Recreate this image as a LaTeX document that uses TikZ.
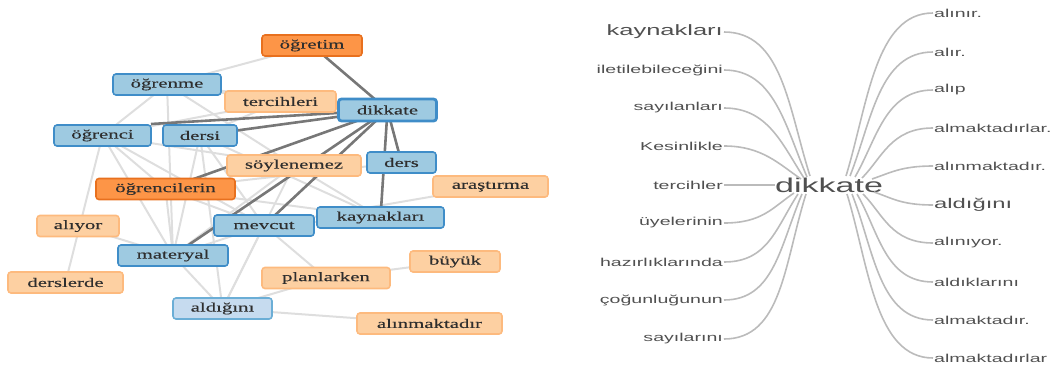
\documentclass[tikz,border=0pt]{standalone}
\usepackage{fontspec}
\newfontfamily\netfont[FakeStretch=1.6,FakeBold=0.25]{Liberation Serif}
\newfontfamily\treefont[FakeStretch=1.7]{Liberation Sans}
\definecolor{odark}{HTML}{FD9547}
\definecolor{odarkb}{HTML}{E8701E}
\definecolor{olight}{HTML}{FDD0A2}
\definecolor{olightb}{HTML}{FDBA7E}
\definecolor{bmid}{HTML}{9ECAE1}
\definecolor{bmidb}{HTML}{3F8DC8}
\definecolor{blight}{HTML}{C6DBEF}
\definecolor{blightb}{HTML}{6BAED6}
\definecolor{edgedark}{HTML}{777777}
\definecolor{edgelight}{HTML}{DEDEDE}
\definecolor{treeline}{HTML}{BBBBBB}
\definecolor{treetext}{HTML}{505050}
\begin{document}
\begin{tikzpicture}[x=1pt,y=-1pt,
  nbox/.style={rounded corners=3pt, line width=1.6pt, inner sep=0pt, minimum height=21pt,
     font=\netfont\fontsize{13}{15}\selectfont, text=black!82},
  od/.style={nbox, fill=odark, draw=odarkb},
  ol/.style={nbox, fill=olight, draw=olightb},
  bm/.style={nbox, fill=bmid, draw=bmidb},
  bl/.style={nbox, fill=blight, draw=blightb},
  dk/.style={line width=2.6pt, draw=edgedark},
  lt/.style={line width=2pt, draw=edgelight},
  tl/.style={line width=1.6pt, draw=treeline},
  lab/.style={font=\treefont\fontsize{11.5}{13}\selectfont, text=treetext, inner sep=1pt},
]
\useasboundingbox (0,0) rectangle (1052,367);

% ---------- network: node coordinates ----------
\coordinate (pogretim) at (312,45.5);
\coordinate (pogrenme) at (167,84.5);
\coordinate (ptercihleri) at (280.5,101.5);
\coordinate (pdikkate) at (387.5,110);
\coordinate (pogrenci) at (102.5,135.5);
\coordinate (pdersi) at (200,135.5);
\coordinate (psoylenemez) at (294,165.5);
\coordinate (pders) at (401.5,162.5);
\coordinate (pogrencilerin) at (165.5,189);
\coordinate (parastirma) at (490.5,186.5);
\coordinate (pkaynaklari) at (380.5,217.5);
\coordinate (pmevcut) at (264,225.5);
\coordinate (paliyor) at (78,226);
\coordinate (pmateryal) at (173,255.5);
\coordinate (pderslerde) at (65.5,282.5);
\coordinate (pbuyuk) at (455,261.5);
\coordinate (pplanlarken) at (326,278);
\coordinate (paldigini) at (222.5,308.5);
\coordinate (palinmak) at (429.5,323.5);

% ---------- light edges ----------
\draw[lt] (pogretim) -- (pogrenme);
\draw[lt] (pogrenme) -- (pogrenci);
\draw[lt] (pogrenme) -- (ptercihleri);
\draw[lt] (pogrenme) -- (pmateryal);
\draw[lt] (pogrenme) -- (psoylenemez);
\draw[lt] (pogrenme) -- (pdikkate);
\draw[lt] (pogrenci) -- (ptercihleri);
\draw[lt] (pogrenci) -- (pderslerde);
\draw[lt] (pogrenci) -- (pogrencilerin);
\draw[lt] (pogrenci) -- (pmateryal);
\draw[lt] (pogrenci) -- (psoylenemez);
\draw[lt] (pogrenci) -- (pmevcut);
\draw[lt] (pdersi) -- (pmateryal);
\draw[lt] (pdersi) -- (paldigini);
\draw[lt] (pdersi) -- (pmevcut);
\draw[lt] (pdersi) -- (pkaynaklari);
\draw[lt] (pdersi) -- (ptercihleri);
\draw[lt] (psoylenemez) -- (pmateryal);
\draw[lt] (psoylenemez) -- (paldigini);
\draw[lt] (psoylenemez) -- (pkaynaklari);
\draw[lt] (pogrencilerin) -- (pmateryal);
\draw[lt] (pogrencilerin) -- (pkaynaklari);
\draw[lt] (pogrencilerin) -- (pmevcut);
\draw[lt] (pogrencilerin) -- (pders);
\draw[lt] (paliyor) -- (pmateryal);
\draw[lt] (pmateryal) -- (paldigini);
\draw[lt] (pmateryal) -- (pmevcut);
\draw[lt] (pmevcut) -- (paldigini);
\draw[lt] (pmevcut) -- (pplanlarken);
\draw[lt] (pmevcut) -- (pkaynaklari);
\draw[lt] (parastirma) -- (pmevcut);
\draw[lt] (pplanlarken) -- (pbuyuk);
\draw[lt] (pplanlarken) -- (paldigini);
\draw[lt] (paldigini) -- (palinmak);

% ---------- dark edges ----------
\draw[dk] (pdikkate) -- (pogretim);
\draw[dk] (pdikkate) -- (ptercihleri);
\draw[dk] (pdikkate) -- (151,124);
\draw[dk] (pdikkate) -- (pdersi);
\draw[dk] (pdikkate) -- (pogrencilerin);
\draw[dk] (pdikkate) -- (pmateryal);
\draw[dk] (pdikkate) -- (pmevcut);
\draw[dk] (pdikkate) -- (pders);
\draw[dk] (pdikkate) -- (pkaynaklari);

% ---------- network nodes ----------
\node[od, minimum width=100pt] (ogretim) at (pogretim) {öğretim};
\node[bm, minimum width=108pt] (ogrenme) at (pogrenme) {öğrenme};
\node[ol, minimum width=111pt] (tercihleri) at (ptercihleri) {tercihleri};
\node[bm, minimum width=97pt] (ogrenci) at (pogrenci) {öğrenci};
\node[bm, minimum width=74pt] (dersi) at (pdersi) {dersi};
\node[ol, minimum width=134pt] (soylenemez) at (psoylenemez) {söylenemez};
\node[bm, minimum width=69pt] (ders) at (pders) {ders};
\node[od, minimum width=139pt] (ogrencilerin) at (pogrencilerin) {öğrencilerin};
\node[ol, minimum width=115pt] (arastirma) at (parastirma) {araştırma};
\node[bm, minimum width=127pt] (kaynaklari) at (pkaynaklari) {kaynakları};
\node[bm, minimum width=100pt] (mevcut) at (pmevcut) {mevcut};
\node[ol, minimum width=82pt] (aliyor) at (paliyor) {alıyor};
\node[bm, minimum width=110pt] (materyal) at (pmateryal) {materyal};
\node[ol, minimum width=115pt] (derslerde) at (pderslerde) {derslerde};
\node[ol, minimum width=90pt] (buyuk) at (pbuyuk) {büyük};
\node[ol, minimum width=128pt] (planlarken) at (pplanlarken) {planlarken};
\node[bl, minimum width=99pt] (aldigini) at (paldigini) {aldığını};
\node[ol, minimum width=145pt] (alinmak) at (palinmak) {alınmaktadır};
\node[bm, line width=2.8pt, minimum width=98pt, minimum height=22pt] (dikkate) at (pdikkate) {dikkate};

% ---------- word tree ----------
\node[lab, anchor=base west, font=\treefont\fontsize{20}{22}\selectfont, inner sep=0pt] (root) at (775,192) {dikkate};

\node[lab, anchor=east, font=\treefont\fontsize{15}{17}\selectfont] (L1) at (724,32) {kaynakları};
\node[lab, anchor=east] (L2) at (724,70) {iletilebileceğini};
\node[lab, anchor=east] (L3) at (724,108) {sayılanları};
\node[lab, anchor=east] (L4) at (724,146) {Kesinlikle};
\node[lab, anchor=east] (L5) at (724,185) {tercihler};
\node[lab, anchor=east] (L6) at (724,223) {üyelerinin};
\node[lab, anchor=east] (L7) at (724,262) {hazırlıklarında};
\node[lab, anchor=east] (L8) at (724,300) {çoğunluğunun};
\node[lab, anchor=east] (L9) at (724,339) {sayılarını};

\node[lab, anchor=west] (R1) at (933,13) {alınır.};
\node[lab, anchor=west] (R2) at (933,52) {alır.};
\node[lab, anchor=west] (R3) at (933,90) {alıp};
\node[lab, anchor=west] (R4) at (933,128) {almaktadırlar.};
\node[lab, anchor=west] (R5) at (933,166) {alınmaktadır.};
\node[lab, anchor=west, font=\treefont\fontsize{14}{16}\selectfont] (R6) at (933,205) {aldığını};
\node[lab, anchor=west] (R7) at (933,243) {alınıyor.};
\node[lab, anchor=west] (R8) at (933,282) {aldıklarını};
\node[lab, anchor=west] (R9) at (933,320) {almaktadır.};
\node[lab, anchor=west] (R10) at (933,358) {almaktadırlar};

\coordinate (lu1) at (810,176);
\coordinate (lu2) at (807,177);
\coordinate (lu3) at (804,178);
\coordinate (lu4) at (801,179);
\coordinate (ld1) at (794,193);
\coordinate (ld2) at (798,194);
\coordinate (ld3) at (802,194);
\coordinate (ld4) at (806,194);
\coordinate (ru1) at (846,176);
\coordinate (ru2) at (850,176);
\coordinate (ru3) at (855,177);
\coordinate (ru4) at (862,178);
\coordinate (ru5) at (872,179);
\coordinate (rd1) at (874,192);
\coordinate (rd2) at (863,194);
\coordinate (rd3) at (857,194);
\coordinate (rd4) at (852,194);
\coordinate (rd5) at (847,194);

\draw[tl] (L1.east) .. controls +(58,0) and +(-22,-70) .. (lu1);
\draw[tl] (L2.east) .. controls +(50,0) and +(-22,-52) .. (lu2);
\draw[tl] (L3.east) .. controls +(44,0) and +(-22,-34) .. (lu3);
\draw[tl] (L4.east) .. controls +(38,0) and +(-22,-15) .. (lu4);
\draw[tl] (L5.east) -- (root.west |- L5.east);
\draw[tl] (L6.east) .. controls +(38,0) and +(-22,15) .. (ld1);
\draw[tl] (L7.east) .. controls +(44,0) and +(-22,34) .. (ld2);
\draw[tl] (L8.east) .. controls +(50,0) and +(-22,52) .. (ld3);
\draw[tl] (L9.east) .. controls +(58,0) and +(-22,70) .. (ld4);

\draw[tl] (ru1) .. controls +(22,-72) and +(-58,0) .. (R1.west);
\draw[tl] (ru2) .. controls +(22,-56) and +(-54,0) .. (R2.west);
\draw[tl] (ru3) .. controls +(22,-38) and +(-48,0) .. (R3.west);
\draw[tl] (ru4) .. controls +(20,-20) and +(-42,0) .. (R4.west);
\draw[tl] (ru5) .. controls +(18,-6) and +(-32,0) .. (R5.west);
\draw[tl] (rd1) .. controls +(18,6) and +(-32,0) .. (R6.west);
\draw[tl] (rd2) .. controls +(20,20) and +(-42,0) .. (R7.west);
\draw[tl] (rd3) .. controls +(22,38) and +(-48,0) .. (R8.west);
\draw[tl] (rd4) .. controls +(22,56) and +(-54,0) .. (R9.west);
\draw[tl] (rd5) .. controls +(22,72) and +(-58,0) .. (R10.west);
\end{tikzpicture}
\end{document}
